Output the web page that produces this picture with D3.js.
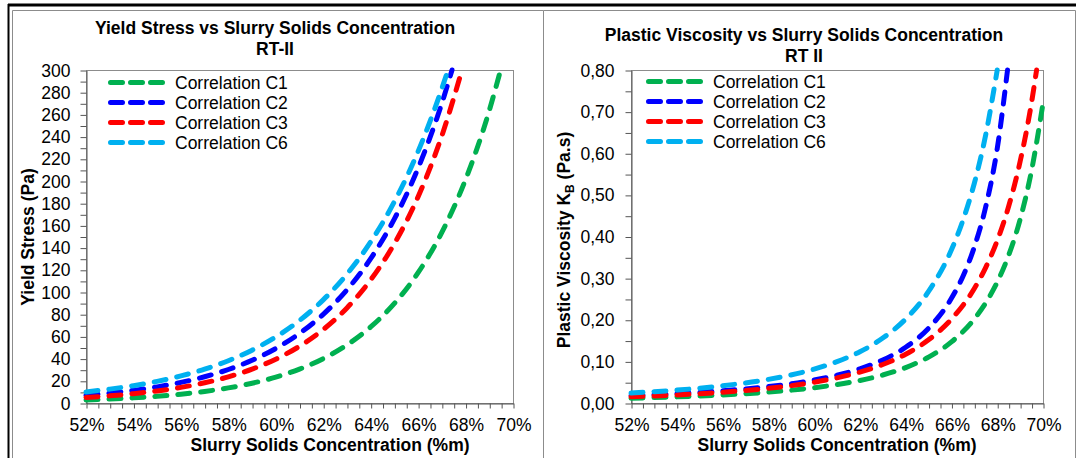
<!DOCTYPE html>
<html><head><meta charset="utf-8">
<script src="https://cdn.jsdelivr.net/npm/d3@7"></script>
<style>
html,body{margin:0;padding:0;background:#fff;}
svg{display:block;font-family:"Liberation Sans",Arial,sans-serif;}
</style></head><body>
<svg id="fig" width="1076" height="458"></svg>
<script>
// Series names and colours (shared by both panels)
const seriesNames = ["Correlation C1", "Correlation C2", "Correlation C3", "Correlation C6"];
const seriesColors = ["#00b050", "#0000ff", "#ff0000", "#00b0f0"];

// Yield stress (Pa) against slurry solids concentration (%m)
const yieldC1 = [[52,2.7],[53,3.54],[54,4.63],[55,6.06],[56,7.93],[57,10.39],[58,13.6],[59,17.8],[60,23.31],[61,30.52],[62,39.96],[63,52.32],[64,68.5],[65,89.69],[66,117.4],[67,153.7],[68,201.3],[69,263.5],[69.42,295.5]];
const yieldC2 = [[52,7],[53,8.93],[54,11.39],[55,14.53],[56,18.54],[57,23.65],[58,30.17],[59,38.49],[60,49.1],[61,62.64],[62,79.91],[63,101.9],[64,130],[65,165.9],[66,211.6],[67,270],[67.43,300]];
const yieldC3 = [[52,5],[53,6.47],[54,8.38],[55,10.85],[56,14.05],[57,18.19],[58,23.55],[59,30.49],[60,39.48],[61,51.11],[62,66.17],[63,85.67],[64,110.9],[65,143.6],[66,185.9],[67,240.7],[67.85,300]];
const yieldC6 = [[52,10],[53,12.5],[54,15.62],[55,19.52],[56,24.39],[57,30.48],[58,38.09],[59,47.61],[60,59.49],[61,74.35],[62,92.92],[63,116.1],[64,145.1],[65,181.4],[66,226.7],[67,283.3],[67.26,300]];

// Plastic viscosity K_B (Pa.s) against slurry solids concentration (%m)
const viscC1 = [[52,.0115],[54,.0147],[56,.0193],[58,.0261],[60,.0367],[61,.0442],[62,.0541],[63,.0672],[64,.0851],[65,.1103],[66,.1467],[67,.202],[67.5,.2407],[68,.2903],[68.5,.355],[69,.441],[69.5,.5585],[70,.72]];
const viscC2 = [[52,.018],[54,.0227],[56,.0293],[58,.0393],[60,.0551],[61,.0667],[62,.0821],[63,.1034],[64,.1339],[65,.1794],[66,.2514],[66.5,.304],[67,.3748],[67.5,.472],[68,.611],[68.45,.80]];
const viscC3 = [[52,.015],[54,.0194],[56,.0258],[58,.0352],[60,.0499],[61,.0605],[62,.0742],[63,.0924],[64,.1172],[65,.1518],[66,.2013],[67,.2751],[67.5,.326],[68,.39],[68.5,.4725],[69,.58],[69.5,.722],[69.72,.80]];
const viscC6 = [[52,.024],[54,.031],[56,.0413],[58,.0567],[60,.0813],[61,.0993],[62,.123],[63,.156],[64,.2017],[65,.268],[66,.368],[66.5,.4386],[67,.528],[67.5,.645],[68,.80]];

// Axis ticks and labels
const xTicks = [52,54,56,58,60,62,64,66,68,70];
const xTickLabels = ["52%","54%","56%","58%","60%","62%","64%","66%","68%","70%"];
const yieldTicks = [0,20,40,60,80,100,120,140,160,180,200,220,240,260,280,300];
const yieldTickLabels = ["0","20","40","60","80","100","120","140","160","180","200","220","240","260","280","300"];
const viscTicks = [0,0.1,0.2,0.3,0.4,0.5,0.6,0.7,0.8];
const viscTickLabels = ["0,00","0,10","0,20","0,30","0,40","0,50","0,60","0,70","0,80"];

const svg = d3.select("#fig");
const FONT = 17.5;
const AXIS_COLOR = "#555";
const FRAME_COLOR = "#8c8c8c";

// Outer sheet borders
svg.append("path").attr("d", "M8,5 H1076").attr("stroke", "#000").attr("stroke-width", 3).attr("fill", "none");
svg.append("path").attr("d", "M8.5,4 V458").attr("stroke", "#000").attr("stroke-width", 2).attr("fill", "none");
svg.append("path").attr("d", "M12.5,458 V10.5 H543.5 V458").attr("stroke", FRAME_COLOR).attr("fill", "none");
svg.append("path").attr("d", "M543.5,10.5 H1075.5 V458").attr("stroke", FRAME_COLOR).attr("fill", "none");

function drawPanel(cfg) {
  const g = svg.append("g");
  const x = d3.scaleLinear().domain([52, 70]).range([cfg.x0, cfg.x1]);
  const y = d3.scaleLinear().domain([0, cfg.yMax]).range([cfg.y1, cfg.y0]);

  // plot frame
  g.append("rect").attr("x", cfg.x0 + 0.5).attr("y", cfg.y0 + 0.5)
    .attr("width", cfg.x1 - cfg.x0).attr("height", cfg.y1 - cfg.y0)
    .attr("fill", "none").attr("stroke", FRAME_COLOR);

  // minor ticks every half step between the labelled ones
  const yMinor = d3.range(0, cfg.yTicks.length * 2 - 1).map(i => i * cfg.yTicks[1] / 2);
  const labelOf = (ticks, labels) => v => {
    const i = ticks.findIndex(t => Math.abs(t - v) < 1e-9);
    return i >= 0 ? labels[i] : "";
  };
  const yAxis = d3.axisLeft(y).tickValues(yMinor).tickSize(6).tickSizeOuter(0)
    .tickPadding(cfg.yPad).tickFormat(labelOf(cfg.yTicks, cfg.yLabels));
  const ya = g.append("g").attr("transform", `translate(${cfg.x0 + 0.5},0.5)`).call(yAxis);

  const xMinor = d3.range(52, 70.001, 0.5);
  const xAxis = d3.axisBottom(x).tickValues(xMinor).tickSize(5).tickSizeOuter(0)
    .tickPadding(10).tickFormat(labelOf(xTicks, xTickLabels));
  const xa = g.append("g").attr("transform", `translate(0.5,${cfg.y1 + 0.5})`).call(xAxis);

  [ya, xa].forEach(a => {
    a.selectAll("path,line").attr("stroke", AXIS_COLOR);
    a.selectAll("text").attr("fill", "#000").attr("font-size", FONT)
      .attr("font-family", '"Liberation Sans", Arial, sans-serif');
  });

  // curves
  const line = d3.line().x(d => x(d[0])).y(d => y(d[1])).curve(d3.curveMonotoneX);
  cfg.series.forEach((s, i) => {
    g.append("path").datum(s).attr("d", line)
      .attr("fill", "none").attr("stroke", seriesColors[i]).attr("stroke-width", 5)
      .attr("stroke-linecap", "round").attr("stroke-dasharray", "12,11");
  });

  // legend
  seriesNames.forEach((name, i) => {
    const ly = cfg.legY + i * 20;
    g.append("line").attr("x1", cfg.legX + 2.5).attr("x2", cfg.legX + 54.5)
      .attr("y1", ly).attr("y2", ly)
      .attr("stroke", seriesColors[i]).attr("stroke-width", 5)
      .attr("stroke-linecap", "round").attr("stroke-dasharray", "12,8");
    g.append("text").attr("x", cfg.legX + 67).attr("y", ly)
      .attr("dy", "0.35em").attr("font-size", FONT).text(name);
  });

  // titles
  cfg.title.forEach((t, i) => {
    g.append("text").attr("x", cfg.titleX).attr("y", cfg.titleY + i * 21)
      .attr("text-anchor", "middle").attr("font-weight", "bold").attr("font-size", FONT).text(t);
  });
  g.append("text").attr("x", cfg.xTitleX).attr("y", 451)
    .attr("text-anchor", "middle").attr("font-weight", "bold").attr("font-size", FONT)
    .text("Slurry Solids Concentration (%m)");
  const yt = g.append("text")
    .attr("transform", `translate(${cfg.yTitleX},${cfg.yTitleY}) rotate(-90)`)
    .attr("text-anchor", "middle").attr("font-weight", "bold").attr("font-size", FONT);
  cfg.yTitle(yt);
}

drawPanel({
  x0: 86, x1: 513, y0: 70, y1: 403, yMax: 300,
  yTicks: yieldTicks, yLabels: yieldTickLabels, yPad: 10,
  series: [yieldC1, yieldC2, yieldC3, yieldC6],
  legX: 108, legY: 82.5,
  title: ["Yield Stress vs Slurry Solids Concentration", "RT-II"], titleX: 275, titleY: 34,
  xTitleX: 330, yTitleX: 34, yTitleY: 237,
  yTitle: t => t.text("Yield Stress (Pa)")
});

drawPanel({
  x0: 631, x1: 1043, y0: 70, y1: 403, yMax: 0.8,
  yTicks: viscTicks, yLabels: viscTickLabels, yPad: 11,
  series: [viscC1, viscC2, viscC3, viscC6],
  legX: 646, legY: 81.5,
  title: ["Plastic Viscosity vs Slurry Solids Concentration", "RT II"], titleX: 804, titleY: 41,
  xTitleX: 837, yTitleX: 570, yTitleY: 240,
  yTitle: t => {
    t.append("tspan").text("Plastic Viscosity K");
    t.append("tspan").attr("font-size", 12).attr("dy", 4).text("B");
    t.append("tspan").attr("dy", -4).text(" (Pa.s)");
  }
});
</script>
</body></html>
